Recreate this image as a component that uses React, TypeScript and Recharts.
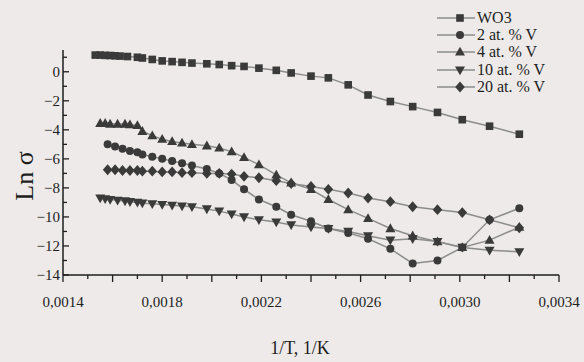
import { LineChart, Line, XAxis, YAxis } from "recharts";

// 1/T values (shared tail grid from 0.00170 onwards)
const gridX = [
  0.0017, 0.00172, 0.00176, 0.0018, 0.00184, 0.00188, 0.00192, 0.00198, 0.00203, 0.00208, 0.00213, 0.00219,
  0.00226, 0.00232, 0.0024, 0.00247, 0.00255, 0.00263, 0.00272, 0.00281, 0.00291, 0.00301, 0.00312, 0.00324,
];
const wo3Head = [0.00153, 0.00155, 0.00157, 0.00159, 0.00161, 0.00163, 0.00166];
const v4Head = [0.00155, 0.00157, 0.00159, 0.00162, 0.00165, 0.00167];
const v2Head = [0.00158, 0.00161, 0.00164, 0.00167];

const wo3Y = [
  1.15, 1.15, 1.13, 1.12, 1.1, 1.08, 1.05, 1.0, 0.95, 0.85, 0.75, 0.7, 0.65, 0.6, 0.55, 0.5, 0.42, 0.37, 0.25,
  0.1, -0.08, -0.3, -0.42, -0.9, -1.6, -2.05, -2.4, -2.8, -3.3, -3.75, -4.3,
];
const v2Y = [
  -5.0, -5.15, -5.3, -5.45, -5.55, -5.7, -5.85, -6.0, -6.15, -6.3, -6.45, -6.7, -7.0, -7.45, -8.1, -8.8, -9.3,
  -9.85, -10.3, -10.8, -11.1, -11.5, -12.2, -13.2, -13.0, -12.1, -10.2, -9.4,
];
const v4Y = [
  -3.55, -3.55, -3.6, -3.6, -3.6, -3.65, -3.7, -4.1, -4.4, -4.65, -4.8, -4.9, -5.0, -5.1, -5.25, -5.5, -5.9,
  -6.4, -7.1, -7.65, -8.1, -8.8, -9.5, -10.1, -10.8, -11.3, -11.7, -12.1, -11.6, -10.7,
];
const v10Y = [
  -8.7, -8.75, -8.8, -8.85, -8.9, -8.95, -9.0, -9.05, -9.1, -9.15, -9.2, -9.25, -9.3, -9.45, -9.6, -9.8, -10.0,
  -10.2, -10.35, -10.55, -10.7, -10.8, -11.0, -11.3, -11.6, -11.5, -11.7, -12.1, -12.3, -12.4,
];
const v20Y = [
  -6.75, -6.75, -6.8, -6.8, -6.8, -6.85, -6.85, -6.9, -6.9, -6.95, -6.95, -7.0, -7.0, -7.05, -7.2, -7.3, -7.5,
  -7.7, -7.9, -8.1, -8.35, -8.7, -8.95, -9.3, -9.5, -9.7, -10.2, -10.75,
];

const xTicks = [
  0.0014, 0.0015, 0.0016, 0.0017, 0.0018, 0.0019, 0.002, 0.0021, 0.0022, 0.0023, 0.0024, 0.0025, 0.0026, 0.0027,
  0.0028, 0.0029, 0.003, 0.0031, 0.0032, 0.0033, 0.0034,
];
const xLabels = ["0,0014", "0,0018", "0,0022", "0,0026", "0,0030", "0,0034"];
const yTicks = [-14, -13, -12, -11, -10, -9, -8, -7, -6, -5, -4, -3, -2, -1, 0, 1];

const BG = "#edeae9";
const INK = "#1e1e1e";
const MARK = "#3a3a3a";
const LINE = "#8c8c8c";
const FONT = "'Liberation Serif', 'DejaVu Serif', serif";

const zip = (xs: number[], ys: number[]) => ys.map((y, i) => ({ x: xs[i], y }));

const series = [
  { name: "WO3", shape: "square", data: zip([...wo3Head, ...gridX], wo3Y) },
  { name: "2 at. % V", shape: "circle", data: zip([...v2Head, ...gridX], v2Y) },
  { name: "4 at. % V", shape: "up", data: zip([...v4Head, ...gridX], v4Y) },
  { name: "10 at. % V", shape: "down", data: zip([...v4Head, ...gridX], v10Y) },
  { name: "20 at. % V", shape: "diamond", data: zip([...v2Head, ...gridX], v20Y) },
];

function Marker({ cx, cy, shape }: { cx: number; cy: number; shape: string }) {
  if (cx == null || cy == null) return null;
  switch (shape) {
    case "square":
      return <rect x={cx - 3.8} y={cy - 3.8} width={7.6} height={7.6} fill={MARK} />;
    case "circle":
      return <circle cx={cx} cy={cy} r={4} fill={MARK} />;
    case "up":
      return <polygon points={`${cx},${cy - 5.2} ${cx - 5},${cy + 3.6} ${cx + 5},${cy + 3.6}`} fill={MARK} />;
    case "down":
      return <polygon points={`${cx},${cy + 5.2} ${cx - 5},${cy - 3.6} ${cx + 5},${cy - 3.6}`} fill={MARK} />;
    default:
      return <polygon points={`${cx},${cy - 5.4} ${cx + 4.8},${cy} ${cx},${cy + 5.4} ${cx - 4.8},${cy}`} fill={MARK} />;
  }
}

function XTick({ x, y, payload }: any) {
  const n = Math.round(payload.value * 10000);
  const major = n % 2 === 0;
  const labelled = (n - 14) % 4 === 0;
  return (
    <g>
      <line x1={x} x2={x} y1={y} y2={y + (major ? 7 : 4)} stroke={INK} strokeWidth={1.3} />
      {labelled && (
        <text x={x} y={y + 32} textAnchor="middle" fontSize={15} fontFamily={FONT} fill={INK}>
          {xLabels[(n - 14) / 4]}
        </text>
      )}
    </g>
  );
}

function YTick({ x, y, payload }: any) {
  const v = payload.value;
  const major = v % 2 === 0 && v <= 0;
  return (
    <g>
      <line x1={x} x2={x + (major ? 6 : 4)} y1={y} y2={y} stroke={INK} strokeWidth={1.3} />
      {major && (
        <text x={x - 3} y={y + 5} textAnchor="end" fontSize={15} fontFamily={FONT} fill={INK}>
          {v < 0 ? `−${Math.abs(v)}` : v}
        </text>
      )}
    </g>
  );
}

function LegendIcon({ shape }: { shape: string }) {
  return (
    <svg width={40} height={12} style={{ display: "block" }}>
      <line x1={0} x2={38} y1={6} y2={6} stroke={LINE} strokeWidth={1.5} />
      <Marker cx={23} cy={6} shape={shape} />
    </svg>
  );
}

export default function App() {
  return (
    <div style={{ position: "fixed", left: 0, top: 0, width: 584, height: 362, background: BG, fontFamily: FONT }}>
      <LineChart width={584} height={362} margin={{ top: 50, right: 25, bottom: 57, left: 15 }}>
        <XAxis
          type="number"
          dataKey="x"
          domain={[0.0014, 0.0034]}
          ticks={xTicks}
          interval={0}
          allowDataOverflow
          height={30}
          tickSize={0}
          tickMargin={0}
          tickLine={false}
          tick={<XTick />}
          axisLine={{ stroke: INK, strokeWidth: 1.5 }}
        />
        <YAxis
          type="number"
          domain={[-14, 1.5]}
          ticks={yTicks}
          interval={0}
          allowDataOverflow
          width={48}
          tickSize={0}
          tickMargin={0}
          tickLine={false}
          tick={<YTick />}
          axisLine={{ stroke: INK, strokeWidth: 1.5 }}
        />
        {series.map((s) => (
          <Line
            key={s.name}
            data={s.data}
            dataKey="y"
            name={s.name}
            type="linear"
            stroke={LINE}
            strokeWidth={1.5}
            isAnimationActive={false}
            dot={(p: any) => <Marker key={p.index} cx={p.cx} cy={p.cy} shape={s.shape} />}
          />
        ))}
      </LineChart>

      <div
        style={{
          position: "absolute",
          left: 25,
          top: 176,
          transform: "translate(-50%, -50%) rotate(-90deg)",
          fontSize: 26,
          color: INK,
          whiteSpace: "nowrap",
        }}
      >
        Ln σ
      </div>
      <div
        style={{
          position: "absolute",
          left: 300,
          top: 348,
          transform: "translate(-50%, -50%)",
          fontSize: 18,
          color: INK,
          whiteSpace: "nowrap",
        }}
      >
        1/T, 1/K
      </div>

      <div style={{ position: "absolute", left: 437, top: 9 }}>
        {series.map((s) => (
          <div key={s.name} style={{ display: "flex", alignItems: "center", height: 17.3 }}>
            <LegendIcon shape={s.shape} />
            <span style={{ fontSize: 16, color: INK, whiteSpace: "nowrap" }}>{s.name}</span>
          </div>
        ))}
      </div>
    </div>
  );
}
